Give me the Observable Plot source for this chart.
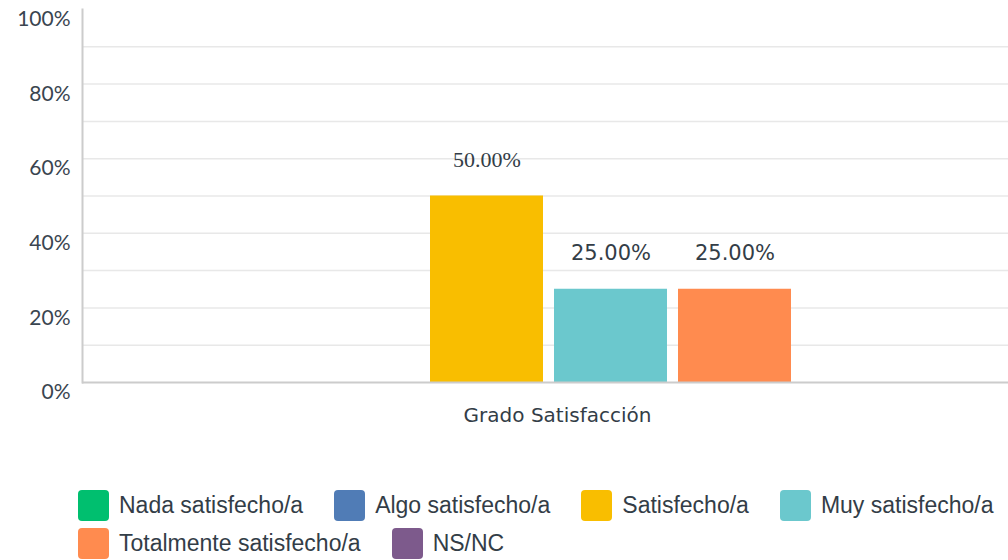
<!DOCTYPE html>
<html>
<head>
<meta charset="utf-8">
<script src="https://cdn.jsdelivr.net/npm/d3@7"></script>
<script src="https://cdn.jsdelivr.net/npm/@observablehq/plot@0.6"></script>
<style>
  body { margin: 0; background: #fff; }
  #chart svg { display: block; }
  .legend { display: flex; flex-wrap: wrap; column-gap: 31px; row-gap: 7px; padding-left: 78px; margin-top: 50px; width: 930px;
    font-family: "Liberation Sans", Arial, sans-serif; font-size: 23px; color: #333d47; }
  .item { display: flex; align-items: center; height: 31px; }
  .sw { width: 31px; height: 31px; border-radius: 4px; margin-right: 10px; }
</style>
</head>
<body>
<div id="chart"></div>
<div class="legend" id="legend"></div>
<script>
const categories = ["Nada satisfecho/a", "Algo satisfecho/a", "Satisfecho/a", "Muy satisfecho/a", "Totalmente satisfecho/a", "NS/NC"];
const values = [0, 0, 50, 25, 25, 0];
const colors = ["#00BF6F", "#507CB6", "#F9BE00", "#6BC8CD", "#FF8B4F", "#7D5A8C"];
const groupLabel = "Grado Satisfacción";
const yTickLabels = [0, 20, 40, 60, 80, 100];
const gridTicks = [10, 20, 30, 40, 50, 60, 70, 80, 90];

const data = categories.map((c, i) => ({cat: c, value: values[i]}));

const chart = Plot.plot({
  width: 1008,
  height: 440,
  marginLeft: 82,
  marginRight: 0,
  marginTop: 9,
  marginBottom: 58,
  x: {domain: categories, range: [176.5, 920.5], paddingInner: 0.089, paddingOuter: 0.0445, axis: null},
  y: {domain: [0, 100], axis: null},
  color: {domain: categories, range: colors},
  marks: [
    Plot.gridY(gridTicks, {stroke: "#e8e8e8", strokeOpacity: 1, strokeWidth: 1.5}),
    Plot.axisY(yTickLabels, {label: null, tickSize: 0, tickPadding: 12, dy: 10, tickFormat: d => d + "%",
      fontSize: 21, fontFamily: "Lato, sans-serif", fill: "#3a4550"}),
    Plot.barY(data, {x: "cat", y: "value", fill: "cat"}),
    Plot.ruleY([0], {stroke: "#cccccc", strokeWidth: 2}),
    Plot.frame({anchor: "left", stroke: "#cccccc", strokeWidth: 2}),
    Plot.text(data, {filter: d => d.value >= 50, x: "cat", y: "value", dy: -36,
      text: d => d.value.toFixed(2) + "%", fontSize: 22, fontFamily: "Liberation Serif, serif", fill: "#333d47"}),
    Plot.text(data, {filter: d => d.value > 0 && d.value < 50, x: "cat", y: "value", dy: -36,
      text: d => d.value.toFixed(2) + "%", fontSize: 21, fontFamily: "DejaVu Sans, sans-serif", fill: "#333d47"}),
    Plot.text([groupLabel], {frameAnchor: "bottom", dy: 39, dx: 12, fontSize: 20,
      fontFamily: "DejaVu Sans, sans-serif", fill: "#333d47"})
  ]
});
document.getElementById("chart").appendChild(chart);

const legend = document.getElementById("legend");
categories.forEach((c, i) => {
  const item = document.createElement("div");
  item.className = "item";
  const sw = document.createElement("div");
  sw.className = "sw";
  sw.style.background = colors[i];
  const t = document.createElement("span");
  t.textContent = c;
  item.appendChild(sw);
  item.appendChild(t);
  legend.appendChild(item);
});
</script>
</body>
</html>
